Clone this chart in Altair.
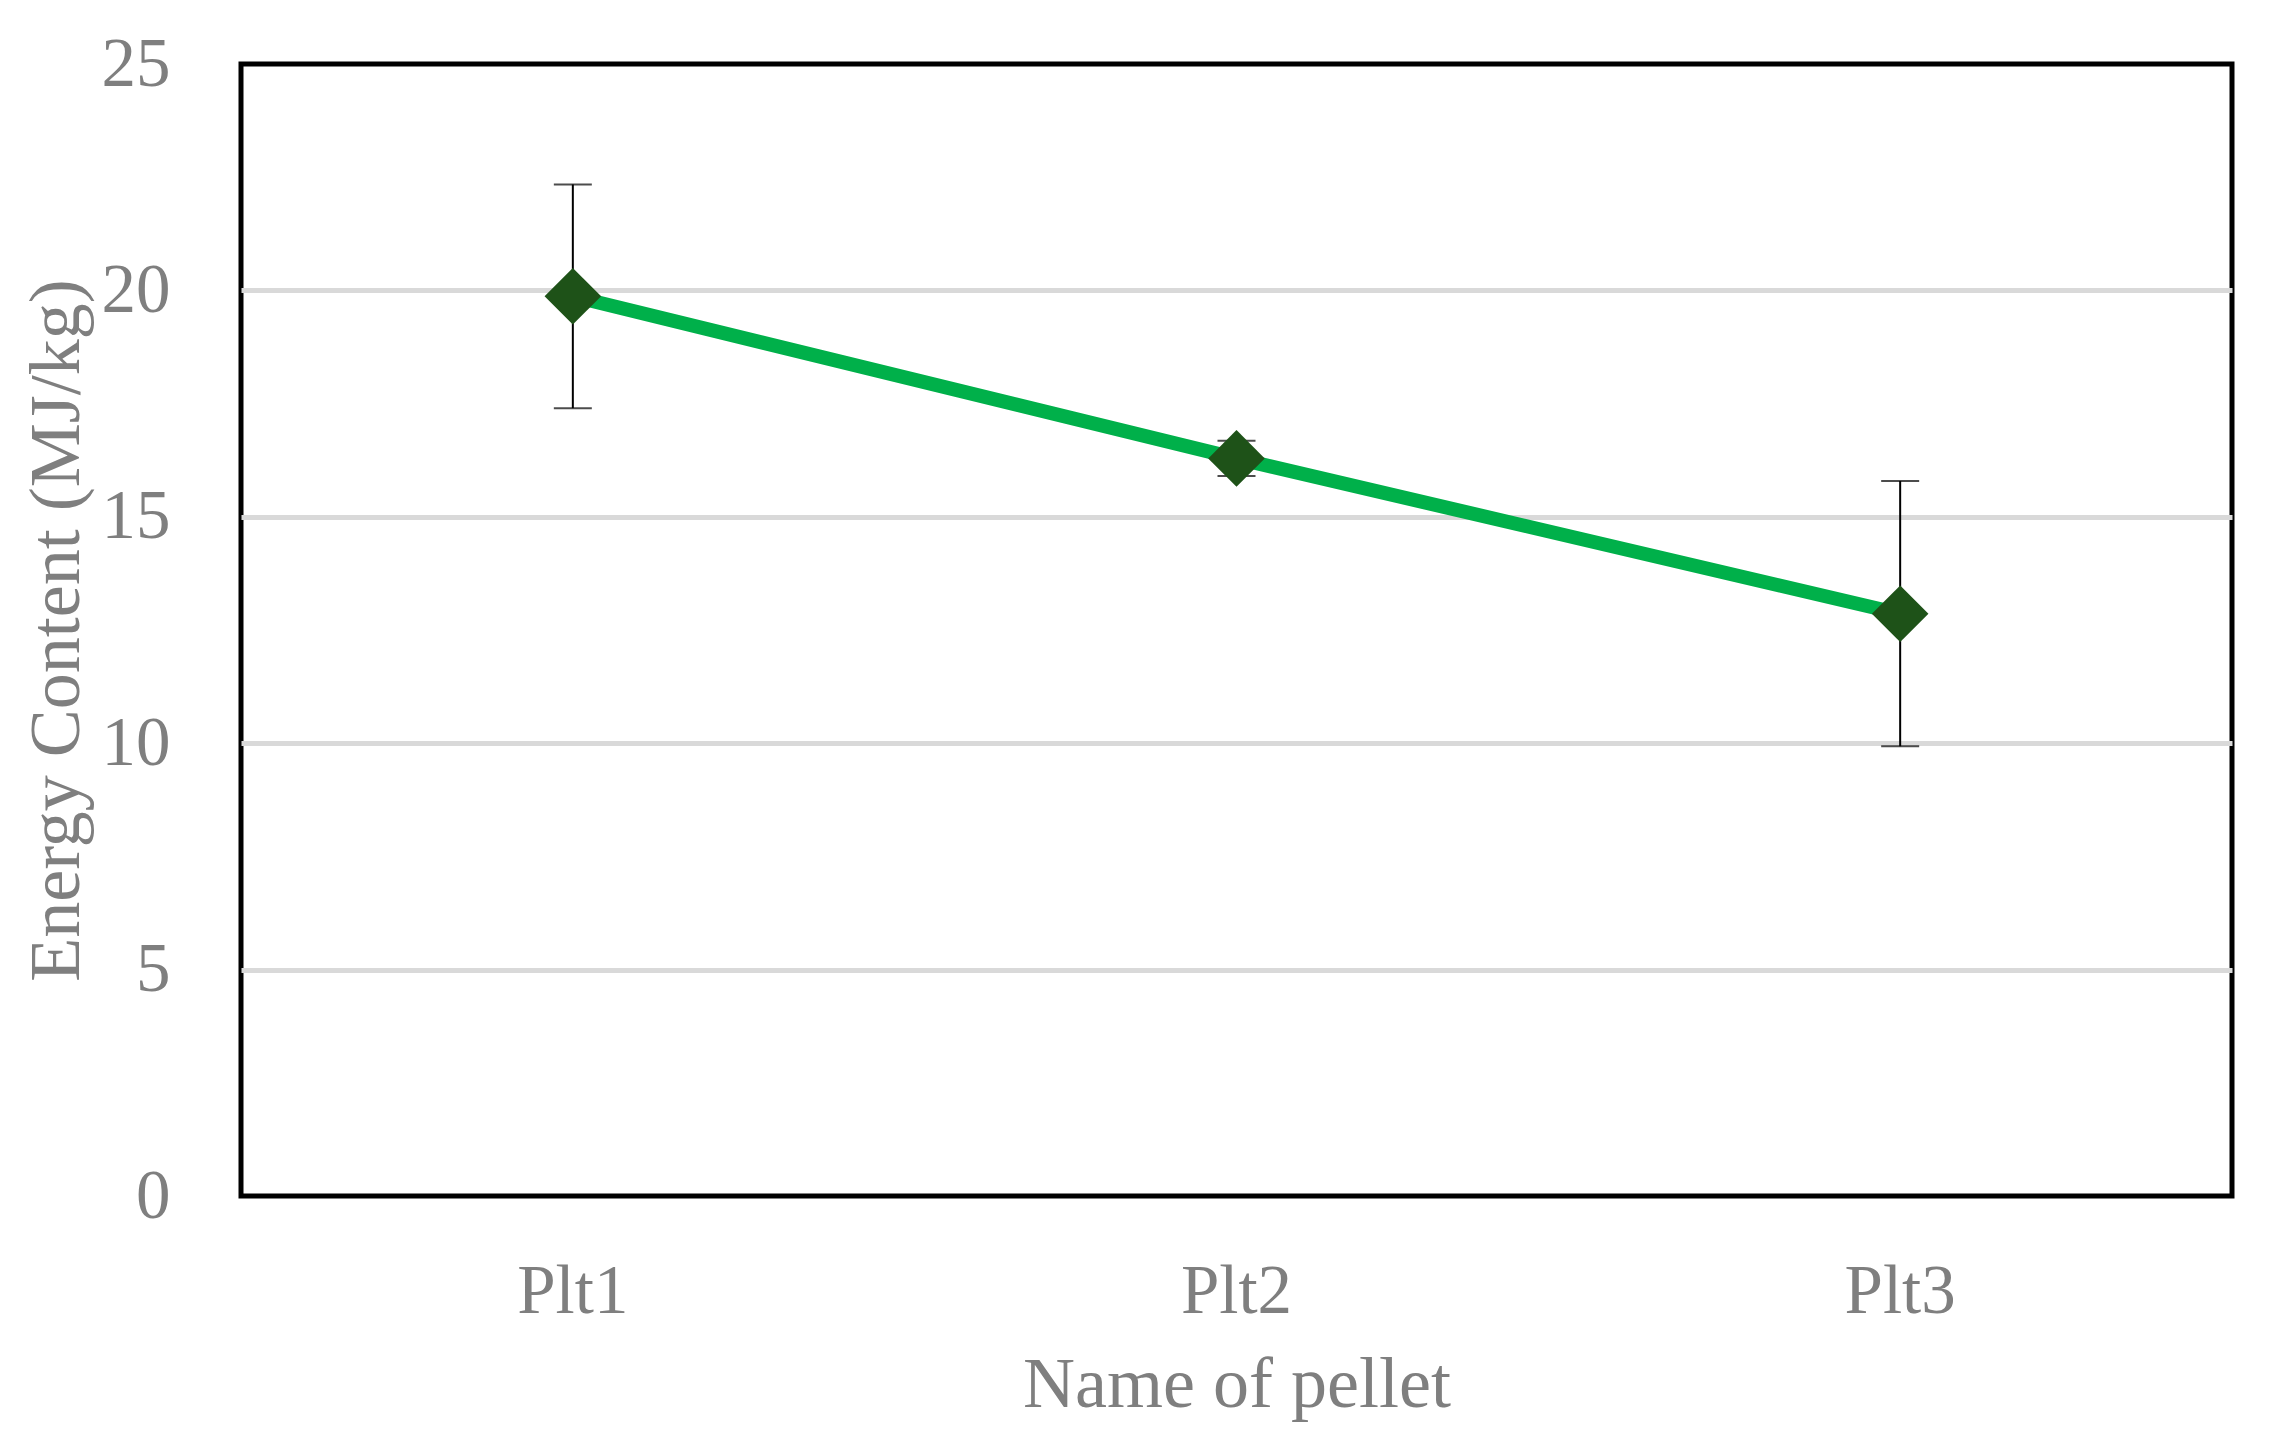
import altair as alt
import pandas as pd

names = ["Plt1", "Plt2", "Plt3"]
means = [19.87, 16.29, 12.86]
errs = [2.47, 0.39, 2.93]

df = pd.DataFrame({
    "name": names,
    "mean": means,
    "low": [m - e for m, e in zip(means, errs)],
    "high": [m + e for m, e in zip(means, errs)],
})

FONT = "Liberation Serif"
GRAY = "#7f7f7f"

x_scale = alt.Scale(type="band", paddingInner=0, paddingOuter=0)
x = alt.X("name:N", sort=names, scale=x_scale,
          axis=alt.Axis(title="Name of pellet", labelAngle=0, ticks=False, domain=False,
                        labelPadding=61, titleX=995.5, titleY=188, titleBaseline="middle",
                        titleAlign="center"))
y_scale = alt.Scale(domain=[0, 25], nice=False)
y = alt.Y("mean:Q", scale=y_scale,
          axis=alt.Axis(title="Energy Content (MJ/kg)", values=[0, 5, 10, 15, 20, 25],
                        ticks=False, domain=False, labelPadding=71, grid=True,
                        gridColor={"condition": {"test": "datum.value == 0 || datum.value == 25",
                                                 "value": "transparent"},
                                   "value": "#d9d9d9"},
                        titleX=-185, titleY=566, titleAngle=270, titleBaseline="middle",
                        titleAlign="center"))

base = alt.Chart(df)

rule = base.mark_rule(color="black", strokeWidth=2).encode(
    x=x, y=alt.Y("low:Q", scale=y_scale), y2="high:Q")
cap_hi = base.mark_tick(color="black", thickness=2, size=38, orient="horizontal").encode(
    x=x, y=alt.Y("high:Q", scale=y_scale))
cap_lo = base.mark_tick(color="black", thickness=2, size=38, orient="horizontal").encode(
    x=x, y=alt.Y("low:Q", scale=y_scale))
line = base.mark_line(color="#00b04a", strokeWidth=14).encode(x=x, y=y)
pts = base.mark_point(shape="diamond", filled=True, size=3200, color="#1e5218",
                      opacity=1, strokeJoin="round").encode(x=x, y=y)

chart = alt.layer(rule, cap_hi, cap_lo, line, pts).properties(
    width=1991, height=1132,
    autosize=alt.AutoSizeParams(type="none"),
    padding={"left": 233, "top": 56, "right": 30, "bottom": 230},
).configure_view(
    stroke="black", strokeWidth=5
).configure_axis(
    labelFont=FONT, titleFont=FONT, labelFontSize=69, titleFontSize=72,
    labelColor=GRAY, titleColor=GRAY, titleFontWeight="normal",
    gridWidth=5,
).configure_axisX(grid=False)

chart.save("out.html", embed_options={"renderer": "svg", "actions": False})
